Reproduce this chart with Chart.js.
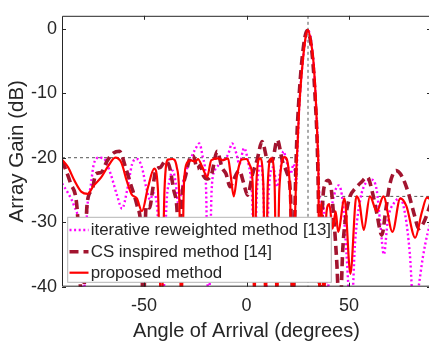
<!DOCTYPE html>
<html>
<head>
<meta charset="utf-8">
<script src="https://cdn.jsdelivr.net/npm/chart.js@4"></script>
<style>
  html, body { margin: 0; padding: 0; background: #fff; overflow: hidden; }
  #wrap { width: 433px; height: 347px; }
</style>
</head>
<body>
<div id="wrap"><canvas id="chart"></canvas></div>
<script>
// ── Data ──────────────────────────────────────────────────────────────────────

const xTicks = [-50, 0, 50];
const yTicks = [-40, -30, -20, -10, 0];

// iterative reweighted method [13]
const iterAngles = [-90, -87, -84.2, -81.5, -79.5, -77.7, -76, -74.5, -72, -69.7, -66.4, -63, -60.7, -58.2, -55.8, -53.4, -51, -49, -47, -45.5, -43.5, -41, -39, -37.5, -36, -34.5, -33.4, -32.2, -31, -29, -27, -25, -23, -21.3, -19.8, -18.5, -17, -15.5, -13.8, -11.5, -9, -7, -5, -3.5, -1.2, 1, 2.5, 3.9, 5.2, 6.8, 8.2, 9.5, 10.8, 13, 15, 16.5, 18, 19.5, 21.5, 23, 24.2, 25, 25.7, 27.5, 29.9, 32.6, 34, 34.7, 35.3, 36.2, 37.2, 38.3, 39.5, 41, 43, 45, 47, 48.8, 51, 53, 55.5, 58, 61, 63.5, 65.2, 67, 69, 72, 75, 77.5, 79.7, 81.8, 84, 86, 88.5, 90];
const iterGain   = [-24, -25.5, -27.4, -31, -42, -28, -24.4, -21, -20, -20.1, -22.4, -26, -27.9, -25, -21, -20.2, -21.5, -24.5, -26.5, -25.5, -28, -45, -27, -23.5, -22, -24, -27, -26, -24, -21.7, -20, -18.7, -17.8, -20, -24, -45, -25, -22, -21.2, -20.5, -19.5, -17.8, -19.3, -21, -18.5, -21, -24.5, -35, -24.5, -21, -25, -42, -25.5, -21.5, -24.5, -22, -19, -20.5, -22.5, -21, -24, -17.5, -12.3, -4.9, -0.2, -4.9, -12.3, -17.5, -24, -30, -27, -31, -42, -30, -25.5, -24.3, -27, -35, -45, -33, -26.5, -24, -23.4, -25, -30, -35, -29.5, -27, -26.3, -29, -35, -45, -40, -35.5, -31.5, -30];

// CS inspired method [14]
const csAngles = [-90, -88, -85.8, -82.6, -80, -77.7, -75.3, -73.5, -71, -68, -65, -62, -59, -56.6, -53.4, -51.3, -50.3, -49, -47.3, -45.8, -44.3, -42, -39.5, -37.5, -35.5, -34, -33, -31.5, -29.5, -27.5, -26, -24, -22.5, -21, -19, -17, -14.3, -12, -10, -8, -6.3, -3.5, -1.5, 0.5, 3, 5.2, 7.6, 10.5, 12.5, 15, 17.5, 19.8, 21.5, 22.7, 23.7, 24.5, 25.3, 27.1, 29.6, 32.2, 33.7, 34.5, 35.1, 35.7, 37, 38.5, 39.8, 41.2, 42.5, 44, 45.5, 47, 48.5, 50.5, 53, 56, 59, 61.5, 63.5, 66, 68, 70, 73, 76, 79, 82, 84, 86.5, 90];
const csGain   = [-20.5, -22, -24, -28, -45, -27, -25, -22.5, -22.3, -20.5, -19.3, -19, -21.5, -24, -27.4, -32, -45, -27.5, -27.8, -25, -22, -21.5, -20.5, -21.5, -25, -27.6, -34, -26, -22.5, -20, -19.7, -21.7, -21.2, -22.8, -23.3, -22.5, -19, -21.5, -22.5, -24.5, -23.4, -22, -23.8, -25.8, -22.5, -20.3, -17.5, -20.5, -20.5, -17.2, -20.5, -22.4, -26, -45, -27, -17.5, -12.3, -4.7, -0.3, -4.5, -12, -18, -27, -45, -28, -24, -23.5, -24.5, -29, -36, -45, -34, -29, -26, -24.8, -23.8, -23, -25.5, -28.5, -32, -28, -24, -22, -23, -25.5, -29, -31, -30, -27];

// proposed method
const propAngles = [-90, -87, -84, -80.5, -77.4, -74.5, -71, -67.5, -64, -61, -58.5, -56, -53.5, -51, -48, -45, -43.2, -41.5, -40, -38.3, -36, -34, -32.8, -31.8, -30.5, -29, -27, -25, -23.7, -21.5, -19.2, -17.2, -14, -11.5, -9, -7.8, -6.2, -4.5, -2.5, 0, 1.8, 3, 3.8, 4.8, 6.6, 8.2, 9.3, 10.4, 12.1, 13.7, 14.8, 16, 18.6, 21, 22.8, 23.6, 24.3, 25, 25.7, 26.5, 27.5, 28.7, 29.9, 31.2, 32.6, 33.4, 34, 34.6, 35.1, 35.5, 36.5, 37.7, 39, 40.4, 42, 43.5, 44.7, 47.8, 50.7, 53.6, 55, 57.2, 60.2, 63.6, 66.8, 71.2, 75, 78, 82.3, 85.5, 88, 90];
const propGain   = [-20.3, -21.5, -23.5, -25.3, -25.6, -24.3, -23.1, -21.3, -20, -20.8, -23.5, -25.7, -26.3, -28.3, -24.5, -21.7, -25, -45, -25, -20.3, -20.2, -21.5, -26, -45, -24, -20.8, -20.4, -20.6, -20.2, -21.5, -23, -20.4, -20.1, -20.4, -20.1, -22.5, -26, -22.5, -20.3, -20.2, -21.3, -24, -45, -24, -20.1, -24, -45, -24, -20.1, -24, -45, -25, -19.9, -23.5, -45, -30, -22, -17.3, -12.3, -8.5, -4.9, -1.6, -0.2, -1.6, -4.9, -8.5, -12.3, -17.3, -23, -45, -27, -45, -28.5, -27.2, -31, -28.3, -31.5, -26.3, -38, -26, -26.8, -31.2, -26, -28.3, -26, -31.5, -26.3, -27.5, -32.4, -28.5, -26.2, -26.5];

// constraint masks and steering direction
const maskLeftAngles  = [-90, 24];
const maskLeftGain    = [-20, -20];
const maskRightAngles = [35, 90];
const maskRightGain   = [-26, -26];
const steerAngles     = [30, 30];
const steerGain       = [2, -40];

// ── Chart ─────────────────────────────────────────────────────────────────────

const FONT = "'Liberation Sans', Arial, Helvetica, sans-serif";
const INK  = '#262626';

const pts = (xs, ys) => xs.map((x, i) => ({ x, y: ys[i] }));

const series = [
  { label: 'iterative reweighted method [13]', color: '#ff00ff', width: 2.4, dash: [2, 2.6], order: 2, xs: iterAngles, ys: iterGain },
  { label: 'CS inspired method [14]',          color: '#a2142f', width: 3.6, dash: [9, 5],   order: 1, xs: csAngles,   ys: csGain },
  { label: 'proposed method',                  color: '#ff0000', width: 2.2, dash: [],       order: 0, xs: propAngles, ys: propGain },
];

const curveSets = series.map((s) => ({
  label: s.label,
  data: pts(s.xs, s.ys),
  borderColor: s.color,
  borderWidth: s.width,
  borderDash: s.dash,
  order: s.order,
  pointRadius: 0,
  fill: false,
  cubicInterpolationMode: 'monotone',
}));

const guide = (xs, ys) => ({
  data: pts(xs, ys),
  borderColor: '#555',
  borderWidth: 1,
  borderDash: [3, 3],
  pointRadius: 0,
  tension: 0,
  order: 3,
});

const frame = {
  id: 'frame',
  afterDatasetsDraw(chart) {
    const { ctx, chartArea: a, scales: { x, y } } = chart;
    ctx.save();

    // legend
    const lx = 67.7, ly = 217.3, lw = 263.6, lh = 65;
    ctx.fillStyle = '#fff';
    ctx.fillRect(lx, ly, lw, lh);
    ctx.strokeStyle = '#b4b4b4';
    ctx.lineWidth = 1;
    ctx.strokeRect(lx, ly, lw, lh);
    const rows = [230, 251.7, 272.7];
    series.forEach((s, i) => {
      ctx.beginPath();
      ctx.strokeStyle = s.color;
      ctx.lineWidth = s.width;
      ctx.setLineDash(s.dash);
      ctx.moveTo(69.5, rows[i]);
      ctx.lineTo(88.5, rows[i]);
      ctx.stroke();
      ctx.setLineDash([]);
      ctx.fillStyle = INK;
      ctx.font = `16.9px ${FONT}`;
      ctx.textBaseline = 'middle';
      ctx.textAlign = 'left';
      ctx.fillText(s.label, 90.7, rows[i] + 0.5);
    });

    // axes box with inward ticks
    ctx.strokeStyle = INK;
    ctx.lineWidth = 1;
    ctx.beginPath();
    ctx.moveTo(a.right, a.top + 0.5);
    ctx.lineTo(a.left + 0.5, a.top + 0.5);
    ctx.lineTo(a.left + 0.5, a.bottom - 0.5);
    ctx.lineTo(a.right, a.bottom - 0.5);
    ctx.lineTo(a.right - 0.5, a.top);
    xTicks.forEach((v) => {
      const px = Math.round(x.getPixelForValue(v)) + 0.5;
      ctx.moveTo(px, a.bottom); ctx.lineTo(px, a.bottom - 4);
      ctx.moveTo(px, a.top);    ctx.lineTo(px, a.top + 4);
    });
    yTicks.forEach((v) => {
      const py = Math.round(y.getPixelForValue(v)) + 0.5;
      ctx.moveTo(a.left, py);  ctx.lineTo(a.left + 4, py);
      ctx.moveTo(a.right, py); ctx.lineTo(a.right - 4, py);
    });
    ctx.stroke();
    ctx.restore();
  },
};

new Chart(document.getElementById('chart'), {
  type: 'line',
  data: {
    datasets: [
      ...curveSets,
      guide(maskLeftAngles, maskLeftGain),
      guide(maskRightAngles, maskRightGain),
      guide(steerAngles, steerGain),
    ],
  },
  options: {
    responsive: true,
    maintainAspectRatio: false,
    animation: false,
    layout: { padding: { top: 4.3, right: 2, left: 0, bottom: 0 } },
    plugins: { legend: { display: false }, tooltip: { enabled: false } },
    scales: {
      x: {
        type: 'linear', min: -90, max: 90,
        afterBuildTicks: (s) => { s.ticks = xTicks.map((v) => ({ value: v })); },
        afterFit: (s) => { s.height = 60.3; },
        grid: { display: false, drawTicks: false },
        border: { display: false },
        ticks: { color: INK, font: { family: FONT, size: 18 }, padding: 9, maxRotation: 0, autoSkip: false },
        title: { display: true, text: 'Angle of Arrival (degrees)', color: INK,
                 font: { family: FONT, size: 20 }, padding: { top: 0, bottom: 3.3 } },
      },
      y: {
        type: 'linear', min: -40, max: 2,
        afterBuildTicks: (s) => { s.ticks = yTicks.map((v) => ({ value: v })); },
        afterFit: (s) => { s.width = 62; },
        grid: { display: false, drawTicks: false },
        border: { display: false },
        ticks: { color: INK, font: { family: FONT, size: 18 }, padding: 5, autoSkip: false },
        title: { display: true, text: 'Array Gain (dB)', color: INK,
                 font: { family: FONT, size: 20.5 }, padding: { top: 5, bottom: 0 } },
      },
    },
  },
  plugins: [frame],
});
</script>
</body>
</html>
